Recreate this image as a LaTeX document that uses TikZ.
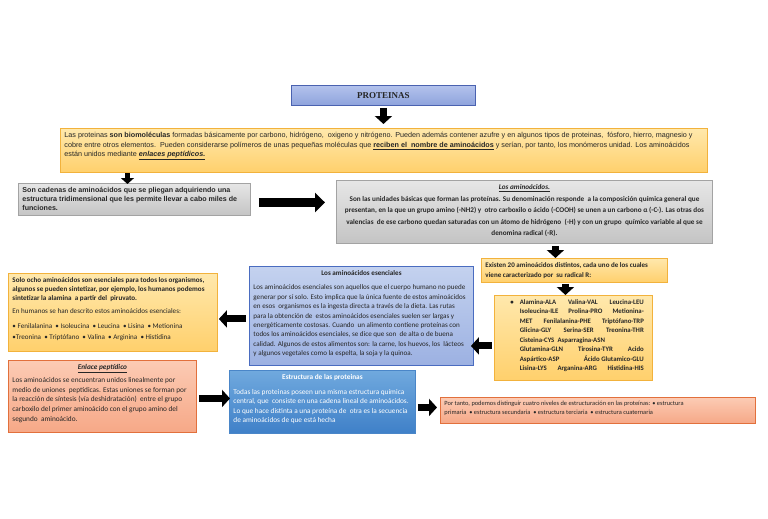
\documentclass[tikz,border=0pt]{standalone}
\usepackage{fontspec}
\setmainfont{Carlito}
\newfontfamily\arialf{Liberation Sans}
\newfontfamily\timesf{Liberation Serif}
\usepackage{tikz}
\usetikzlibrary{arrows.meta,calc}
\definecolor{titletop}{HTML}{B3C2EC}
\definecolor{titlebot}{HTML}{8EA3DC}
\definecolor{titleline}{HTML}{4A62B0}
\definecolor{yeltop}{HTML}{FFE8AC}
\definecolor{yelbot}{HTML}{FFD06C}
\definecolor{yelline}{HTML}{F2B23C}
\definecolor{graytop}{HTML}{E6E6E6}
\definecolor{graybot}{HTML}{C4C4C4}
\definecolor{grayline}{HTML}{A3A3A3}
\definecolor{bluetop}{HTML}{C4D2EF}
\definecolor{bluebot}{HTML}{9CB1E2}
\definecolor{blueline}{HTML}{4A6CC0}
\definecolor{salmtop}{HTML}{FCCBB4}
\definecolor{salmbot}{HTML}{F6A887}
\definecolor{salmline}{HTML}{E2703C}
\definecolor{deeptop}{HTML}{70A9DE}
\definecolor{deepbot}{HTML}{3F80C8}
\definecolor{deepline}{HTML}{4A86C8}
\definecolor{inktxt}{HTML}{262626}
\newcommand{\intext}[3]{\parbox[c][#2pt][t]{#1pt}{#3}}

\begin{document}
\begin{tikzpicture}[x=1pt,y=-1pt,
  boxy/.style={anchor=north west, line width=0.9pt, inner xsep=4pt, inner ysep=4pt, text=inktxt},
  titlebox/.style={boxy, draw=titleline, top color=titletop, bottom color=titlebot},
  ybox/.style={boxy, draw=yelline, top color=yeltop, bottom color=yelbot},
  gbox/.style={boxy, draw=grayline, top color=graytop, bottom color=graybot},
  bbox/.style={boxy, draw=blueline, top color=bluetop, bottom color=bluebot},
  sbox/.style={boxy, draw=salmline, top color=salmtop, bottom color=salmbot},
  dbox/.style={boxy, draw=deepline, top color=deeptop, bottom color=deepbot, text=white},
  blk/.style={line width=7pt, -{Triangle[length=8pt,width=17pt]}},
  wideblk/.style={line width=9pt, -{Triangle[length=10pt,width=19pt]}},
  smallblk/.style={line width=5pt, -{Triangle[length=6pt,width=13pt]}}]
  \useasboundingbox[fill=white] (0,0) rectangle (768,519);

  % boxes
  \node[titlebox, minimum width=184pt, minimum height=20pt, inner sep=0pt] (title) at (291,85)
    {\timesf\bfseries\fontsize{9}{10}\selectfont PROTEINAS};
  \node[ybox] (intro) at (60,128) {\intext{639}{36}{\arialf\fontsize{7.2}{9.5}\selectfont
    Las proteinas \textbf{son biomoléculas} formadas básicamente por carbono, hidrógeno,\ \ oxigeno y nitrógeno. Pueden además contener azufre y en algunos tipos de proteinas,\ \ fósforo, hierro, magnesio y\\
    cobre entre otros elementos.\ \ Pueden considerarse polímeros de unas pequeñas moléculas que \textbf{\underline{reciben el\ \ nombre de aminoácidos}} y serían, por tanto, los monómeros unidad. Los aminoácidos\\
    están unidos mediante \textbf{\textit{\underline{enlaces peptídicos.}}}}};
  \node[gbox] (gray1) at (18,183) {\intext{224}{24}{\arialf\bfseries\fontsize{7.1}{9}\selectfont
    Son cadenas de aminoácidos que se pliegan adquiriendo una\\
    estructura tridimensional que les permite llevar a cabo miles de\\
    funciones.}};
  \node[gbox] (gray2) at (336,180) {\intext{368}{55}{\centering\bfseries\fontsize{7.2}{11.5}\selectfont
    \textit{\underline{Los aminoácidos.}}\\
    Son las unidades básicas que forman las proteínas. Su denominación responde\ \ a la composición química general que\\
    presentan, en la que un grupo amino (-NH2) y\ \ otro carboxilo o ácido (-COOH) se unen a un carbono α (-C-). Las otras dos\\
    valencias\ \ de ese carbono quedan saturadas con un átomo de hidrógeno\ \ (-H) y con un grupo\ \ químico variable al que se\\
    denomina radical (-R).\par}};
  \node[ybox] (existen) at (481,258) {\intext{178}{16}{\bfseries\fontsize{7}{10}\selectfont
    Existen 20 aminoácidos distintos, cada uno de los cuales\\
    viene caracterizado por\ \ su radical R:}};
  \node[ybox] (list) at (494,295) {\intext{150}{77}{\bfseries\fontsize{6.8}{9.5}\selectfont
    \hspace*{12pt}\textbullet\hspace{6pt}\parbox[t]{124pt}{%
    Alamina-ALA\hfill Valina-VAL\hfill Leucina-LEU\\
    Isoleucina-ILE\hfill Prolina-PRO\hfill Metionina-\\
    MET\hfill Fenilalanina-PHE\hfill Triptófano-TRP\\
    Glicina-GLY\hfill Serina-SER\hfill Treonina-THR\\
    Cisteina-CYS\ \ Asparragina-ASN\\
    Glutamina-GLN\hfill Tirosina-TYR\hfill Acido\\
    Aspártico-ASP\hfill Ácido Glutamico-GLU\\
    Lisina-LYS\hfill Arganina-ARG\hfill Histidina-HIS}}};
  \node[bbox] (essent) at (249,266) {\intext{216}{91}{\fontsize{7.1}{9.4}\selectfont
    {\centering\bfseries Los aminoácidos esenciales\par}\vspace{5pt}
    Los aminoácidos esenciales son aquellos que el cuerpo humano no puede\\
    generar por sí solo. Esto implica que la única fuente de estos aminoácidos\\
    en esos\ \ organismos es la ingesta directa a través de la dieta. Las rutas\\
    para la obtención de\ \ estos aminoácidos esenciales suelen ser largas y\\
    energéticamente costosas. Cuando\ \ un alimento contiene proteínas con\\
    todos los aminoácidos esenciales, se dice que son\ \ de alta o de buena\\
    calidad. Algunos de estos alimentos son: la carne, los huevos, los\ \ lácteos\\
    y algunos vegetales como la espelta, la soja y la quinoa.}};
  \node[ybox] (eight) at (8,273) {\intext{201}{70}{\fontsize{7.1}{9}\selectfont
    \textbf{Solo ocho aminoácidos son esenciales para todos los organismos,\\
    algunos se pueden sintetizar, por ejemplo, los humanos podemos\\
    sintetizar la alamina\ \ a partir del\ \ piruvato.}\\[4pt]
    En humanos se han descrito estos aminoácidos esenciales:\\[6pt]
    • Fenilalanina\ \ • Isoleucina\ \ • Leucina\ \ • Lisina\ \ • Metionina\\[2pt]
    •Treonina\ \ • Triptófano\ \ • Valina\ \ • Arginina\ \ • Histidina}};
  \node[sbox] (bond) at (8,360) {\intext{180}{64}{\fontsize{7.3}{9.8}\selectfont
    {\centering\bfseries\itshape\underline{Enlace peptídico}\par}\vspace{3pt}
    Los aminoácidos se encuentran unidos linealmente por\\
    medio de uniones\ \ peptídicas. Estas uniones se forman por\\
    la reacción de síntesis (vía deshidratación)\ \ entre el grupo\\
    carboxilo del primer aminoácido con el grupo amino del\\
    segundo\ \ aminoácido.}};
  \node[dbox] (struct) at (229,370) {\intext{178}{55}{\fontsize{7.3}{9.5}\selectfont
    {\centering\bfseries Estructura de las proteinas\par}\vspace{5pt}
    Todas las proteinas poseen una misma estructura química\\
    central, que\ \ consiste en una cadena lineal de aminoácidos.\\
    Lo que hace distinta a una proteína de\ \ otra es la secuencia\\
    de aminoácidos de que está hecha}};
  \node[sbox] (levels) at (440,397) {\intext{307}{18}{\fontsize{6.4}{9}\selectfont
    Por tanto, podemos distinguir cuatro niveles de estructuración en las proteínas: • estructura\\
    primaria\ \ • estructura secundaria\ \ • estructura terciaria\ \ • estructura cuaternaria}};

  % arrows
  \draw[blk, shorten <=2pt, shorten >=4pt] (title.south) -- (title.south |- intro.north);
  \draw[smallblk, shorten >=-1pt] ($(gray1.north |- intro.south)+(-7,0)$) -- ($(gray1.north)+(-7,0)$);
  \draw[wideblk, shorten <=8pt, shorten >=11pt] ($(gray1.east)+(0,3)$) -- ($(gray1.east -| gray2.west)+(0,3)$);
  \draw[blk, shorten <=2pt] ($(existen.north |- gray2.south)+(-19,0)$) -- ($(existen.north)+(-19,0)$);
  \draw[blk, shorten <=1pt, shorten >=0pt] ($(list.north |- existen.south)+(-8,0)$) -- ($(list.north)+(-8,0)$);
  \draw[blk, shorten <=2pt, shorten >=-3pt] ($(list.west)+(0,8)$) -- ($(list.west -| essent.east)+(0,8)$);
  \draw[blk, shorten <=3pt, shorten >=1pt] ($(essent.west)+(0,3)$) -- ($(essent.west -| eight.east)+(0,3)$);
  \draw[blk, shorten <=2pt, shorten >=-1pt] ($(bond.east)+(0,2)$) -- ($(bond.east -| struct.west)+(0,2)$);
  \draw[blk, shorten <=2pt, shorten >=3pt] ($(struct.east |- levels.west)+(0,-3)$) -- ($(levels.west)+(0,-3)$);
\end{tikzpicture}
\end{document}
